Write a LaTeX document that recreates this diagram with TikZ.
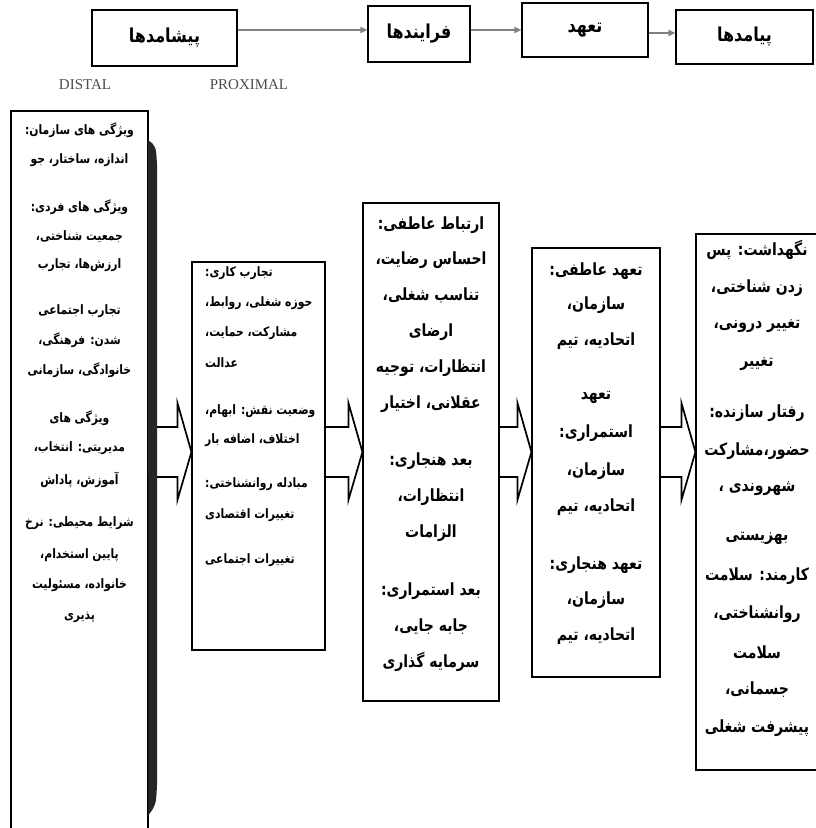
\documentclass[tikz,border=0pt]{standalone}
\usepackage{fontspec}
\usepackage{graphicx}
\setmainfont{Liberation Serif}
\newfontfamily\farsi[Script=Arabic]{DejaVu Sans}
\TeXXeTstate=1
\usetikzlibrary{calc,arrows.meta}
\newcommand{\fa}[1]{\scalebox{1}[1.2]{\beginR#1\endR}}
\begin{document}
\begin{tikzpicture}[x=1pt,y=-1pt]
\def\shaftT{427}\def\shaftB{477}\def\headT{403}\def\headB{500}\def\tipY{452}\def\headL{14}
\tikzset{box/.style={draw,line width=1.1pt,inner sep=0pt},
  hbox/.style={box,font=\farsi\bfseries\fontsize{16}{18}\selectfont},
  sm/.style={font=\farsi\bfseries\fontsize{10.8}{12}\selectfont,inner sep=0pt},
  lg/.style={font=\farsi\bfseries\fontsize{14}{16}\selectfont,inner sep=0pt},
  blk/.style={line width=1.7pt,line join=miter},
  harr/.style={draw=gray,line width=1.6pt,-{Triangle[length=7pt,width=6pt]}},
  lat/.style={font=\fontsize{15}{17}\selectfont,text=black!70}}
\useasboundingbox (0,0) rectangle (815,828);
%%header row
\path(164.5,38)node[hbox,minimum width=145pt,minimum height=56pt](hpish){\fa{پیشامدها}}
  (419,34)node[hbox,minimum width=102pt,minimum height=56pt](hfar){\fa{فرایندها}}
  (585,30)node[hbox,minimum width=126pt,minimum height=54pt](htah){\fa{تعهد}}
  (744.5,37)node[hbox,minimum width=137pt,minimum height=54pt](hpay){\fa{پیامدها}};
\foreach \a/\b/\y in {hpish/hfar/30,hfar/htah/30,htah/hpay/33}
  \draw[harr](\a.east|-0,\y)--(\b.west|-0,\y);
\path(85,85)node[lat](dist){DISTAL}(249,85)node[lat](prox){PROXIMAL};
%%main boxes
\path(79.5,481)node[box,minimum width=137pt,minimum height=740pt](pish){}
  (258.5,456)node[box,minimum width=133pt,minimum height=388pt](kar){}
  (431,452)node[box,minimum width=136pt,minimum height=498pt](rab){}
  (596,462.5)node[box,minimum width=128pt,minimum height=429pt](tah){}
  (763,502)node[box,minimum width=134pt,minimum height=536pt](pay){};
\foreach \a/\b in {pish/kar,kar/rab,rab/tah,tah/pay}
  \draw[blk](\a.east|-0,\shaftT)--($(\b.west|-0,\shaftT)+(-\headL,0)$)--($(\b.west|-0,\headT)+(-\headL,0)$)
    --(\b.west|-0,\tipY)--($(\b.west|-0,\headB)+(-\headL,0)$)--($(\b.west|-0,\shaftB)+(-\headL,0)$)--(\a.east|-0,\shaftB);
%%shadow bar
\fill[black!85](148,140)..controls(156,146)..(157,165)--(157,785)..controls(156,805)..(148.5,815)--cycle;
%%texts
\foreach \y/\txt [count=\i] in {130/ویژگی های سازمان:,160/اندازه، ساختار، جو,
  207/ویژگی های فردی:,237/جمعیت شناختی،,265/ارزش‌ها، تجارب,
  311/تجارب اجتماعی,340/شدن: فرهنگی،,370/خانوادگی، سازمانی,
  418/ویژگی های,448/مدیریتی: انتخاب،,480/آموزش، پاداش,
  523/شرایط محیطی: نرخ,555/پایین استخدام،,585/خانواده، مسئولیت,617/پذیری}
  \path(79.5,\y)node[sm](l\i){\fa{\txt}};
\foreach \y/\txt [count=\i] in {273/تجارب کاری:,303/حوزه شغلی، روابط،,333/مشارکت، حمایت،,363/عدالت,
  411/وضعیت نقش: ابهام،,440/اختلاف، اضافه بار,
  484/مبادله روانشناختی:,515/تغییرات اقتصادی,
  560/تغییرات اجتماعی}
  \path(205,\y)node[sm,anchor=west](k\i){\fa{\txt}};
\foreach \y/\txt [count=\i] in {225/ارتباط عاطفی:,260/احساس رضایت،,295/تناسب شغلی،,332/ارضای,368/انتظارات، توجیه,404/عقلانی، اختیار,
  461/بعد هنجاری:,497/انتظارات،,533/الزامات,
  591/بعد استمراری:,627/جابه جایی،,662/سرمایه گذاری}
  \path(431,\y)node[lg](r\i){\fa{\txt}};
\foreach \y/\txt [count=\i] in {271/تعهد عاطفی:,305/سازمان،,341/اتحادیه، تیم,
  397/تعهد,433/استمراری:,471/سازمان،,507/اتحادیه، تیم,
  565/تعهد هنجاری:,600/سازمان،,636/اتحادیه، تیم}
  \path(596,\y)node[lg](t\i){\fa{\txt}};
\foreach \y/\txt [count=\i] in {250/نگهداشت: پس,288/زدن شناختی،,326/تغییر درونی،,364/تغییر,
  413/رفتار سازنده:,451/حضور،مشارکت,489/شهروندی ،,
  538/بهزیستی,576/کارمند: سلامت,614/روانشناختی،,652/سلامت,690/جسمانی،,728/پیشرفت شغلی}
  \path(757,\y)node[lg](p\i){\fa{\txt}};
\end{tikzpicture}
\end{document}
